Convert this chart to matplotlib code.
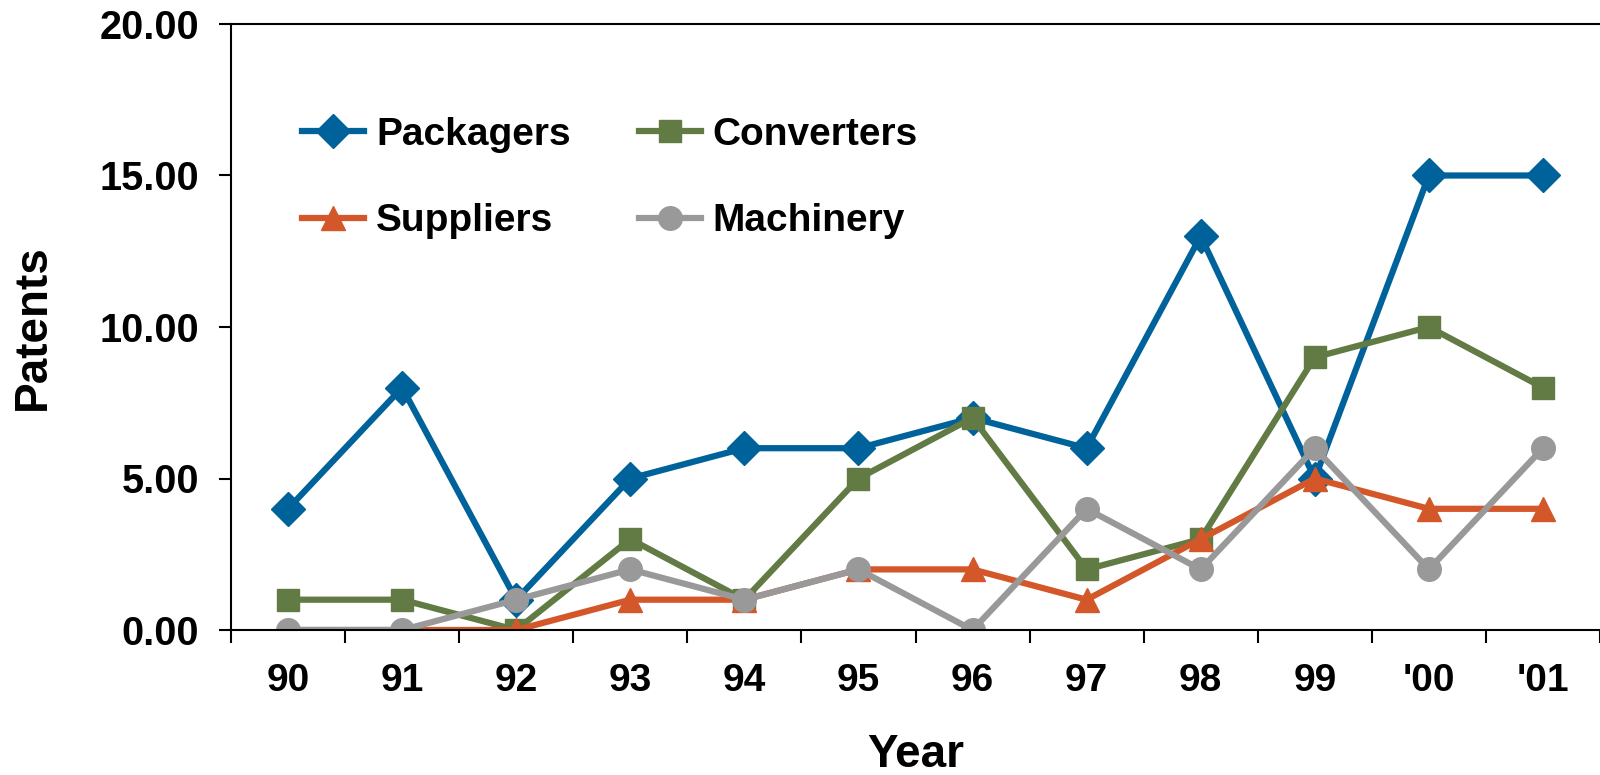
import matplotlib
matplotlib.use("Agg")
import matplotlib.pyplot as plt
from matplotlib.ticker import FixedLocator

years = ["90", "91", "92", "93", "94", "95", "96", "97", "98", "99", "'00", "'01"]
packagers = [4, 8, 1, 5, 6, 6, 7, 6, 13, 5, 15, 15]
converters = [1, 1, 0, 3, 1, 5, 7, 2, 3, 9, 10, 8]
suppliers = [0, 0, 0, 1, 1, 2, 2, 1, 3, 5, 4, 4]
machinery = [0, 0, 1, 2, 1, 2, 0, 4, 2, 6, 2, 6]

plt.rcParams['font.family'] = ['Liberation Sans', 'DejaVu Sans']
plt.rcParams['font.weight'] = 'bold'

fig = plt.figure(figsize=(16, 7.75), dpi=100)
ax = fig.add_axes([231 / 1600, 1 - 630 / 775, 1 - 231 / 1600, (630 - 24) / 775])

x = list(range(len(years)))
lw = 4.5
p1, = ax.plot(x, packagers, color="#00629B", lw=lw, marker="D", ms=17, label="Packagers")
p2, = ax.plot(x, converters, color="#627B44", lw=lw, marker="s", ms=16, label="Converters")
p3, = ax.plot(x, suppliers, color="#D4572A", lw=lw, marker="^", ms=17, label="Suppliers")
p4, = ax.plot(x, machinery, color="#999999", lw=lw, marker="o", ms=17, label="Machinery")

ax.set_xlim(-0.5, len(years) - 0.5)
ax.set_ylim(0, 20)
ax.set_yticks([0, 5, 10, 15, 20])
ax.set_yticklabels([f"{v:.2f}" for v in [0, 5, 10, 15, 20]])
ax.set_xticks(x)
ax.set_xticklabels(years)
ax.xaxis.set_minor_locator(FixedLocator([i - 0.5 for i in range(len(years) + 1)]))

ax.tick_params(axis="x", which="major", length=0, pad=24, labelsize=28)
ax.tick_params(axis="x", which="minor", length=9, width=1.5, direction="out")
ax.tick_params(axis="y", length=9, width=1.5, pad=14, labelsize=28.5)

ax.spines["right"].set_visible(False)
for s in ["left", "top", "bottom"]:
    ax.spines[s].set_linewidth(1.5)
for lbl in ax.get_xticklabels() + ax.get_yticklabels():
    lbl.set_fontweight("bold")

ax.set_xlabel("Year", fontsize=33, fontweight="bold", va="center")
ax.set_ylabel("Patents", fontsize=33, fontweight="bold", va="center")
ax.xaxis.set_label_coords(0.5, -0.206)
ax.yaxis.set_label_coords(-0.1446, 0.5)

# row-wise legend: Packagers, Converters / Suppliers, Machinery
leg = ax.legend([p1, p3, p2, p4], ["Packagers", "Suppliers", "Converters", "Machinery"],
                ncol=2, loc="upper left", bbox_to_anchor=(0.052, 0.847),
                frameon=False, prop={"weight": "bold", "size": 28},
                borderpad=0, borderaxespad=0,
                handlelength=1.6, handletextpad=0.3, columnspacing=1.75,
                labelspacing=1.3)

fig.savefig("out.png", dpi=100)
